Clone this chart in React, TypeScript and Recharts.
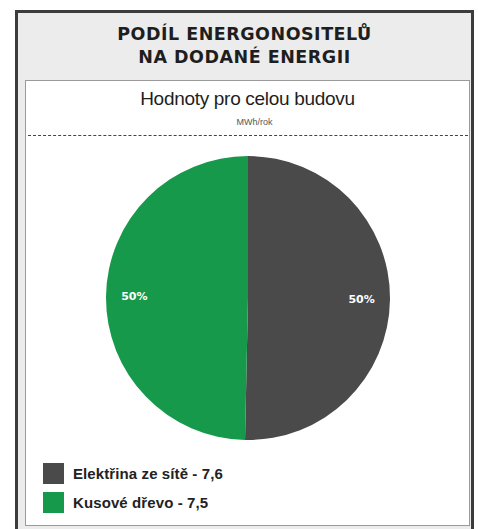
import React from "react";
import { PieChart, Pie, Cell } from "recharts";

const categories = ["Elektřina ze sítě", "Kusové dřevo"];
const values = [7.6, 7.5];
const valueLabels = ["7,6", "7,5"];
const colors = ["#4a4a4a", "#16994a"];

const titleLines = ["PODÍL ENERGONOSITELŮ", "NA DODANÉ ENERGII"];
const subtitle = "Hodnoty pro celou budovu";
const unit = "MWh/rok";

const data = categories.map((name, i) => ({ name, value: values[i], label: valueLabels[i] }));

const RADIAN = Math.PI / 180;
const renderLabel = (props: any) => {
  const { cx, cy, midAngle, outerRadius, percent } = props;
  const r = outerRadius * 0.8;
  const x = cx + r * Math.cos(-midAngle * RADIAN);
  const y = cy + r * Math.sin(-midAngle * RADIAN);
  return (
    <text x={x} y={y} fill="#ffffff" textAnchor="middle" dominantBaseline="central"
      fontFamily="'DejaVu Sans', sans-serif" fontWeight="bold" fontSize={11}>
      {`${Math.round(percent * 100)}%`}
    </text>
  );
};

export default function App() {
  return (
    <div style={{ position: "absolute", left: 0, top: 0, width: 478, height: 529, background: "#fff", overflow: "hidden" }}>
      <div style={{ position: "absolute", left: 15, top: 10, width: 453, height: 516, border: "3px solid #3c3c3c", background: "#ececec" }} />
      <div style={{ position: "absolute", left: 18, top: 23, width: 453, textAlign: "center", fontFamily: "'DejaVu Sans', sans-serif", fontWeight: "bold", fontSize: 17.5, lineHeight: "23px", color: "#1e1e1e", letterSpacing: 0.5 }}>
        {titleLines.map((t, i) => <div key={i}>{t}</div>)}
      </div>
      <div style={{ position: "absolute", left: 25, top: 80, width: 443, height: 444, border: "1px solid #9a9a9a", background: "#fff" }} />
      <div style={{ position: "absolute", left: 25, top: 88, width: 445, textAlign: "center", fontFamily: "'Liberation Sans', Arial, sans-serif", color: "#1e1e1e" }}>
        <div style={{ fontSize: 19, lineHeight: "22px", letterSpacing: -0.3 }}>{subtitle}</div>
        <div style={{ fontSize: 9, lineHeight: "12px", color: "#555", marginTop: 6, paddingLeft: 14 }}>{unit}</div>
      </div>
      <div style={{ position: "absolute", left: 28, top: 135, width: 440, borderTop: "1px dashed #444" }} />
      <div style={{ position: "absolute", left: 0, top: 0 }}>
        <PieChart width={478} height={529}>
          <Pie
            data={data}
            dataKey="value"
            nameKey="name"
            cx={243}
            cy={293}
            outerRadius={142}
            startAngle={90}
            endAngle={-270}
            stroke="none"
            label={renderLabel}
            labelLine={false}
            isAnimationActive={false}
          >
            {data.map((d, i) => <Cell key={i} fill={colors[i]} />)}
          </Pie>
        </PieChart>
      </div>
      <div style={{ position: "absolute", left: 43, top: 459, fontFamily: "'Liberation Sans', Arial, sans-serif" }}>
        {data.map((d, i) => (
          <div key={i} style={{ display: "flex", alignItems: "center", height: 29 }}>
            <div style={{ width: 21, height: 21, background: colors[i], marginRight: 9 }} />
            <span style={{ fontSize: 15, fontWeight: "bold", color: "#222", letterSpacing: 0.1 }}>
              {`${d.name} - ${d.label}`}
            </span>
          </div>
        ))}
      </div>
    </div>
  );
}
